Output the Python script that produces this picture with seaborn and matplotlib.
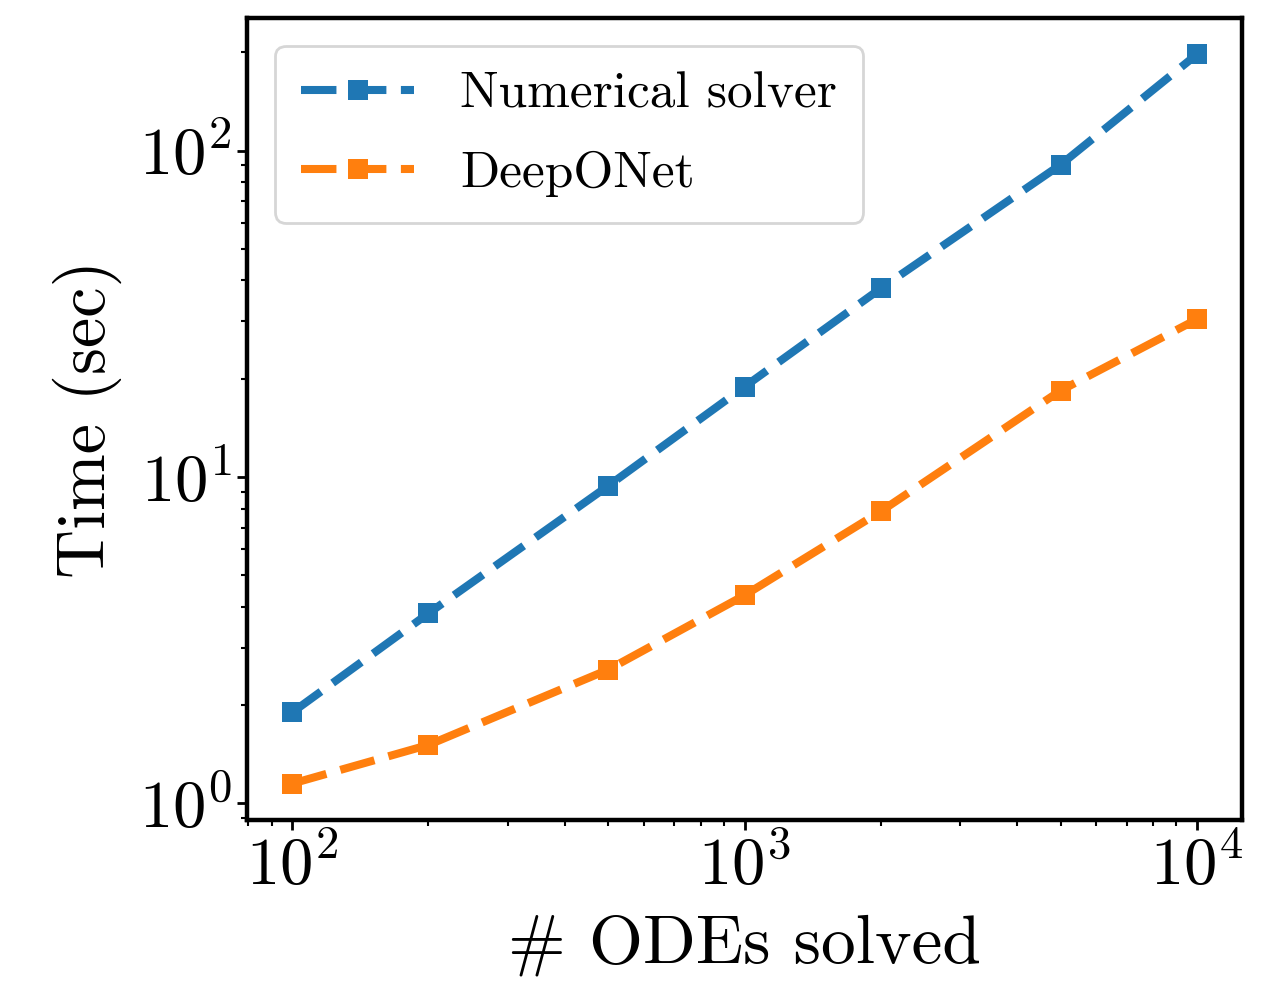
import numpy as np
import pandas as pd
import matplotlib
matplotlib.use("Agg")
import matplotlib.pyplot as plt
import seaborn as sns

n_odes = [100, 200, 500, 1000, 2000, 5000, 10000]
numerical_time = [1.90, 3.82, 9.4, 18.9, 37.8, 90.5, 197]
deeponet_time = [1.15, 1.51, 2.57, 4.34, 7.84, 18.4, 30.4]
series_names = ["Numerical solver", "DeepONet"]
colors = ["#1f77b4", "#ff7f0e"]

sns.set_style("ticks")
plt.rcParams["font.family"] = ["serif"]
plt.rcParams["font.serif"] = ["cmr10"]
plt.rcParams["mathtext.fontset"] = "cm"
plt.rcParams["axes.formatter.use_mathtext"] = True
plt.rcParams["axes.unicode_minus"] = False
for key in ["text.color", "axes.labelcolor", "xtick.color", "ytick.color",
            "axes.edgecolor"]:
    plt.rcParams[key] = "black"

df = pd.DataFrame({
    "n": n_odes * 2,
    "t": numerical_time + deeponet_time,
    "method": [series_names[0]] * len(n_odes) + [series_names[1]] * len(n_odes),
})

fig = plt.figure(figsize=(12.76, 9.81), dpi=100)
ax = fig.add_axes([0.1936, 0.1641, 0.7798, 0.8176])

for name, c in zip(series_names, colors):
    sub = df[df["method"] == name]
    sns.lineplot(data=sub, x="n", y="t", ax=ax, color=c,
                 dashes=False, marker="s", markersize=15, linewidth=5.8,
                 markeredgewidth=0, label=name)
for line in ax.get_lines():
    line.set_dashes((4.4, 1.8))

ax.set_xscale("log")
ax.set_yscale("log")
ax.set_xlabel("# ODEs solved", fontsize=50, labelpad=12)
ax.set_ylabel("Time (sec)", fontsize=49, labelpad=12)
ax.tick_params(axis="both", which="major", labelsize=48, length=7, width=2,
               direction="out", pad=4)
ax.tick_params(axis="both", which="minor", length=4, width=1.5, direction="out")
for s in ax.spines.values():
    s.set_linewidth(3.2)
    s.set_color("black")
ax.grid(False)

leg = ax.legend(loc="upper left", fontsize=37, frameon=True, fancybox=True,
                borderpad=0.5, borderaxespad=0.55, handlelength=2.2,
                handletextpad=0.9, labelspacing=0.64)
leg.get_frame().set_linewidth(2)
leg.get_frame().set_edgecolor("#cccccc")
for h in leg.get_lines():
    h.set_dashes((4.4, 1.8))

fig.savefig("out.png", dpi=100)
